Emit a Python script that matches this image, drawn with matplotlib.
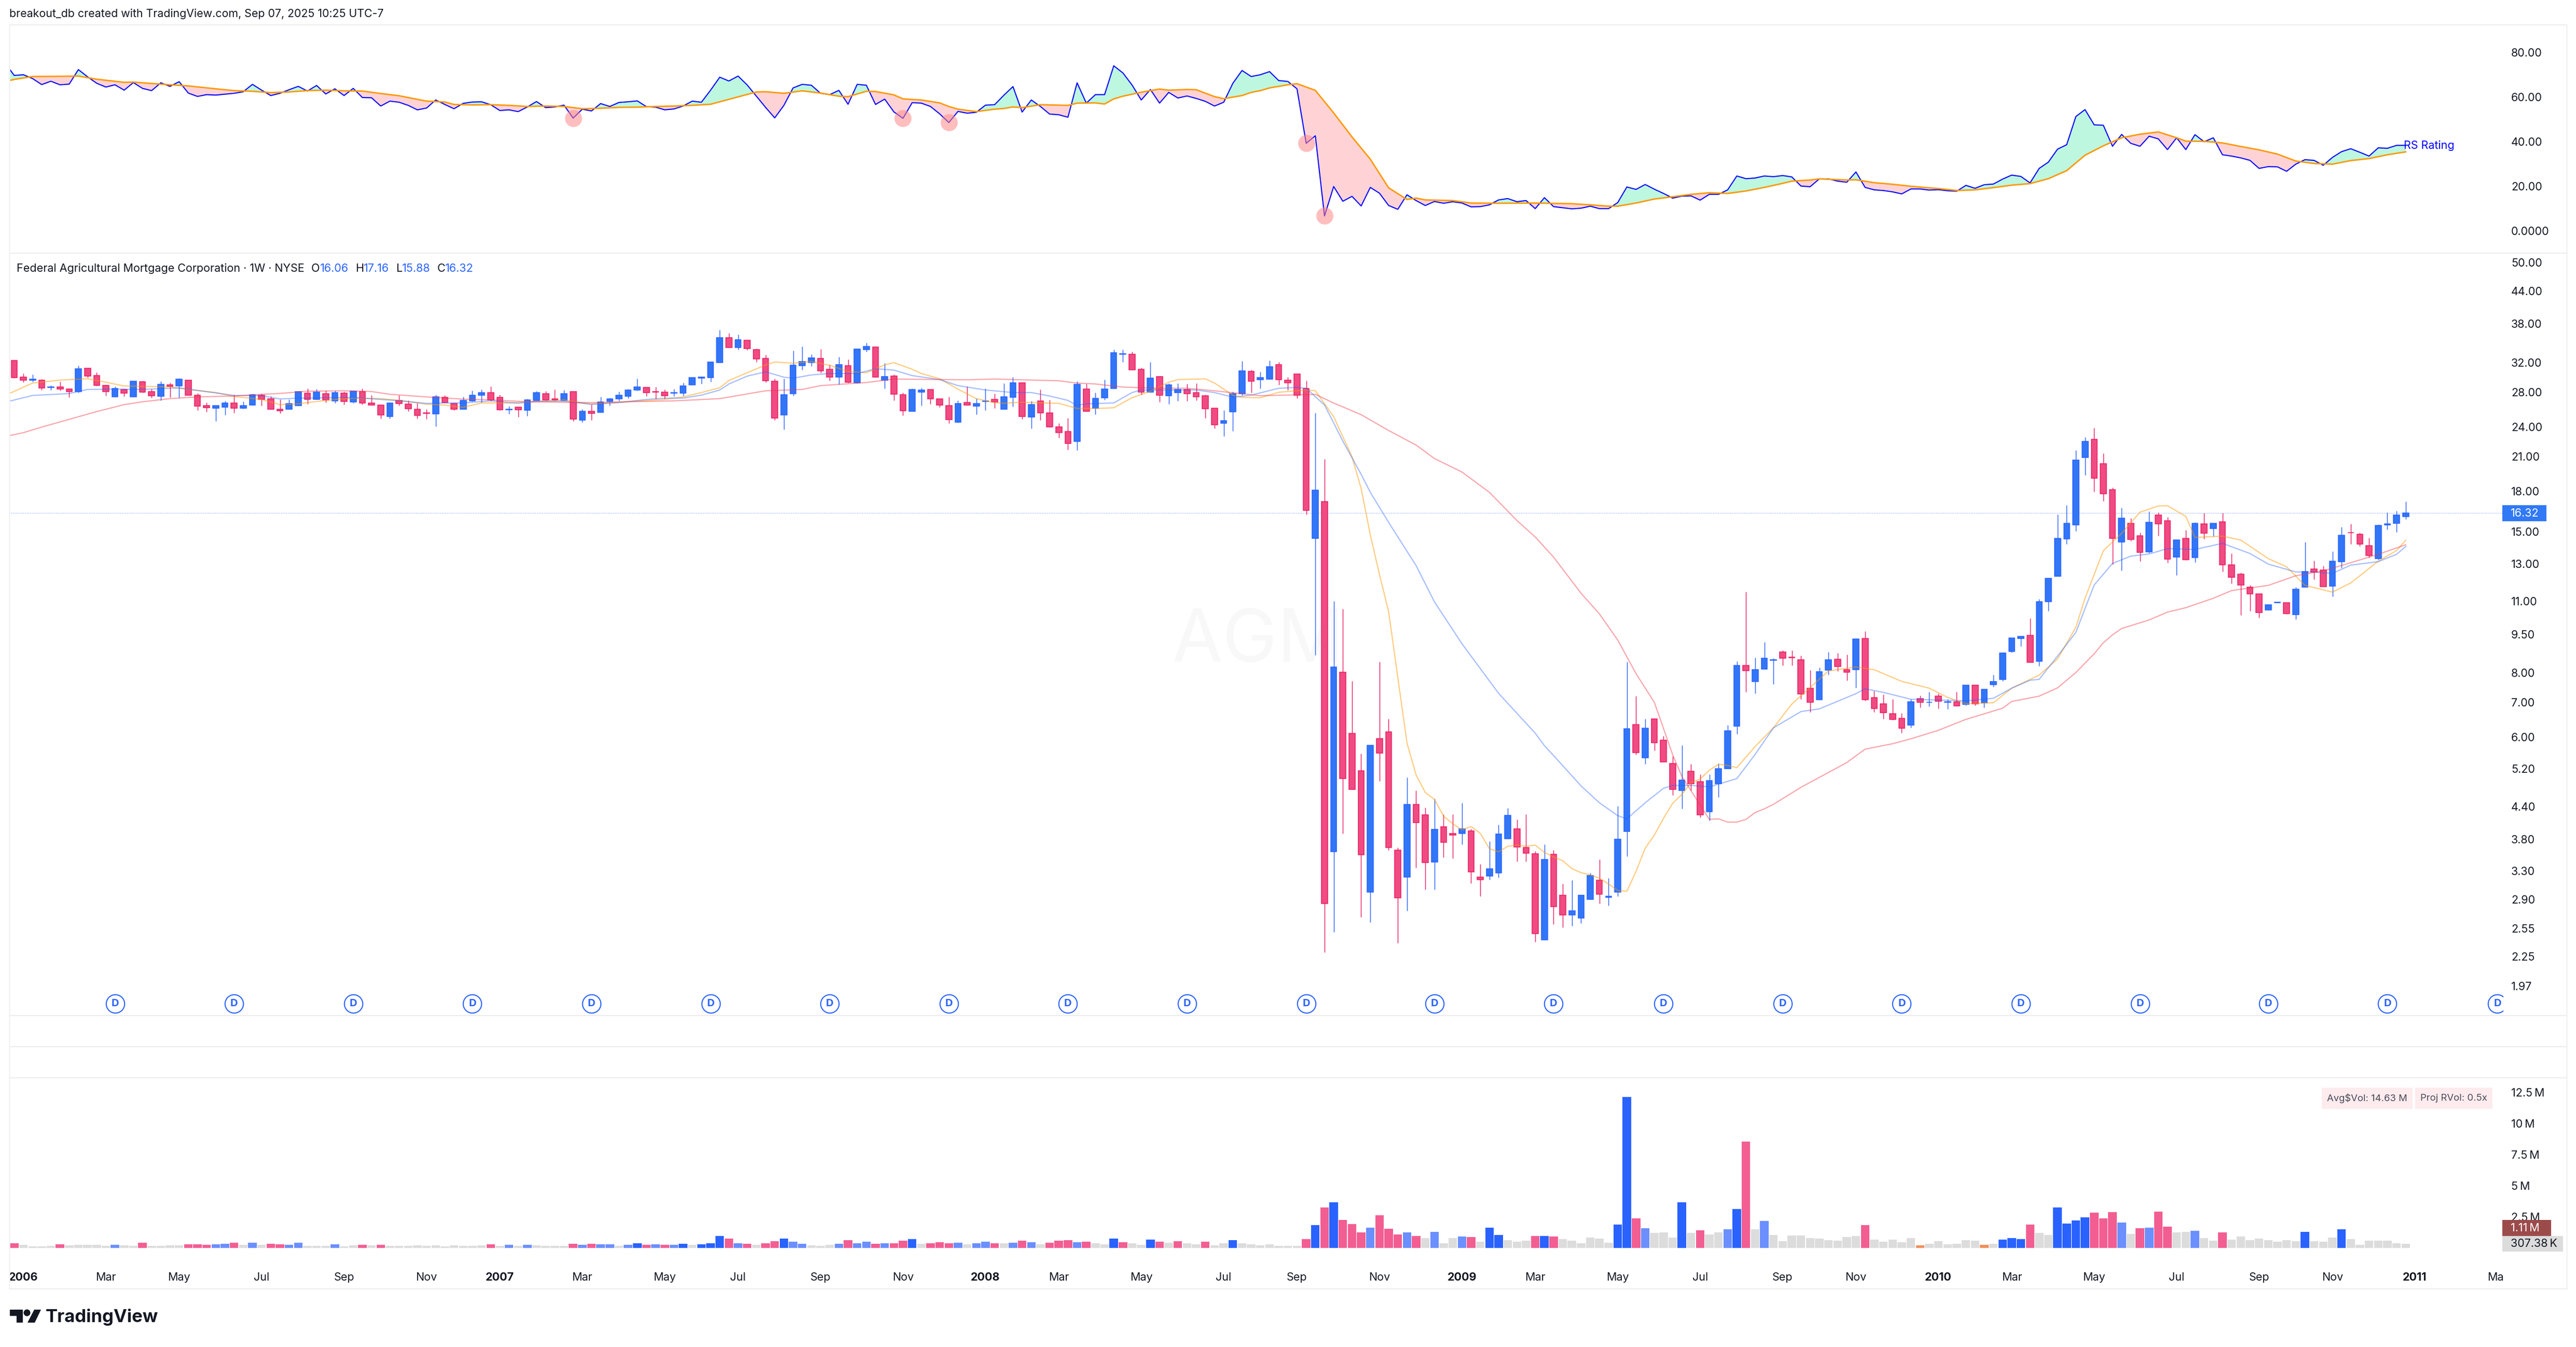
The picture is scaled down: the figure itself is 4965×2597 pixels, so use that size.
import numpy as np
import matplotlib
matplotlib.use('Agg')
import matplotlib.pyplot as plt
from matplotlib.lines import Line2D
from matplotlib.patches import Rectangle, Circle, Polygon
from matplotlib.ticker import NullLocator
from matplotlib.transforms import blended_transform_factory

plt.rcParams['font.family'] = ['Inter', 'DejaVu Sans']

# ---------- data ----------
OPEN = [
 32.25,29.95,29.56,29.54,28.61,28.65,28.39,28.09,31.15,30.16,
 28.86,27.44,28.33,27.44,29.33,28.07,27.51,28.92,28.81,29.54,
 27.62,26.36,26.08,26.20,26.67,26.08,26.45,27.62,27.17,25.94,
 25.96,26.39,27.88,27.13,27.81,26.94,27.88,26.81,28.07,26.67,
 26.43,25.14,27.00,26.55,25.94,25.52,25.43,27.36,26.61,25.96,
 26.94,27.62,27.94,27.36,25.88,26.18,25.84,27.00,27.81,27.17,
 27.00,28.07,24.73,25.70,25.60,26.87,27.19,27.51,28.28,28.59,
 28.07,28.00,27.90,27.90,28.95,29.84,29.90,31.98,35.72,34.20,
 35.31,33.85,32.55,29.40,25.31,27.81,31.53,31.96,32.55,31.01,
 29.98,31.51,29.21,33.88,34.25,29.56,30.09,27.68,25.72,28.02,
 28.33,27.17,26.36,24.50,26.73,26.32,26.87,27.11,25.96,27.38,
 29.19,25.08,26.92,25.52,23.98,23.48,22.48,28.39,26.08,27.32,
 28.48,33.19,33.17,31.01,28.02,30.02,27.57,27.94,28.33,27.94,
 27.55,26.06,24.39,25.66,27.81,30.72,29.63,29.70,31.66,29.54,
 30.37,28.46,14.57,17.18,3.59,8.01,6.09,5.16,3.00,5.96,
 6.14,3.62,3.21,4.44,4.24,3.43,4.02,3.90,3.90,3.94,
 3.21,3.22,3.27,3.81,3.98,3.66,3.56,2.42,3.55,2.96,
 2.71,2.67,2.90,3.16,2.93,3.00,3.93,6.34,5.46,6.50,
 5.92,5.33,4.72,5.14,4.91,4.29,4.87,5.20,6.30,8.25,
 7.68,8.12,8.45,8.78,8.57,8.47,7.46,7.09,8.09,8.49,
 8.10,8.11,9.31,7.16,6.95,6.65,6.52,6.33,7.12,7.00,
 7.21,7.00,7.02,6.94,7.56,6.98,7.57,7.76,8.80,9.32,
 9.44,8.42,10.99,12.30,14.54,15.47,20.92,22.70,20.35,18.13,
 14.34,15.57,14.73,13.73,16.17,15.78,13.40,14.57,13.37,15.54,
 15.23,15.71,12.94,12.43,11.73,11.36,10.58,10.94,10.92,10.37,
 11.73,12.72,12.66,11.78,13.13,14.96,14.86,14.09,13.30,15.47,
 15.58,16.06]
CLOSE = [
 29.90,29.56,29.67,28.55,28.65,28.41,28.09,31.08,30.11,28.88,
 28.09,28.46,27.90,29.40,28.02,27.57,28.99,28.74,29.67,27.64,
 26.32,26.14,26.36,26.67,26.08,26.36,27.68,27.13,25.96,25.78,
 26.61,28.07,27.13,28.01,27.06,27.94,26.87,28.13,26.69,26.45,
 25.31,26.67,26.63,26.02,25.25,25.46,27.42,26.75,25.96,26.98,
 27.62,27.94,27.06,25.90,25.94,25.88,27.04,27.94,27.06,27.08,
 27.81,24.85,25.70,25.46,26.79,27.17,27.62,28.26,28.65,27.96,
 28.02,27.57,27.94,28.79,29.88,29.95,32.03,35.72,34.20,35.39,
 34.04,32.50,29.49,24.96,27.68,31.59,32.10,32.63,30.81,29.98,
 31.66,29.26,33.94,34.33,29.98,30.02,27.77,25.78,28.33,28.26,
 27.19,26.45,24.79,26.61,26.45,26.61,26.92,26.81,27.42,29.19,
 25.14,26.49,25.54,24.01,23.39,22.28,28.99,25.72,27.23,28.39,
 33.39,33.24,30.96,28.02,29.81,27.64,28.92,28.33,27.83,27.44,
 26.02,24.22,24.65,27.81,30.79,29.42,29.88,31.36,29.63,29.21,
 27.64,16.50,18.08,2.85,8.20,4.98,4.74,3.54,5.78,5.58,
 3.66,2.92,4.44,4.09,3.42,3.97,3.75,3.87,3.98,3.28,
 3.17,3.33,3.89,4.23,3.67,3.57,2.49,3.47,2.81,2.71,
 2.76,2.96,3.23,2.97,2.94,3.80,6.23,5.59,6.24,5.84,
 5.37,4.74,4.95,4.87,4.24,4.93,5.20,6.17,8.26,8.06,
 8.10,8.53,8.47,8.52,8.55,7.27,7.01,8.03,8.47,8.22,
 8.01,9.29,7.09,6.81,6.69,6.49,6.24,7.02,7.01,7.01,
 7.04,7.02,6.89,7.56,6.96,7.43,7.69,8.72,9.33,9.40,
 8.38,10.97,12.18,14.56,15.60,20.70,22.50,19.05,17.80,14.58,
 15.94,14.50,13.70,15.67,15.56,13.28,14.47,13.25,15.60,14.91,
 15.57,12.96,12.25,11.82,11.37,10.46,10.84,10.95,10.41,11.62,
 12.57,12.53,11.75,13.17,14.79,14.93,14.21,13.51,15.45,15.54,
 16.17,16.32]
HIGH = [
 32.30,30.44,30.30,29.67,28.90,29.33,28.46,31.51,31.15,30.58,
 28.97,28.72,28.44,29.44,29.51,28.39,29.40,29.24,29.81,29.54,
 27.88,26.73,26.36,26.94,27.70,26.85,27.79,27.81,27.49,27.11,
 27.11,28.07,28.46,28.39,28.18,28.18,28.11,28.20,28.46,27.62,
 26.43,26.77,27.62,27.00,26.69,25.94,27.66,27.62,26.73,27.42,
 28.20,28.33,28.72,27.68,26.30,26.24,27.17,28.13,28.13,28.33,
 28.26,28.07,25.94,26.49,27.42,27.29,28.07,28.39,29.74,28.65,
 28.65,28.33,28.39,29.24,29.88,30.02,32.10,36.97,36.45,36.22,
 35.31,34.01,33.07,29.74,29.74,33.70,34.33,33.17,33.94,31.66,
 32.78,32.40,34.01,34.90,34.33,31.88,30.30,27.94,28.46,28.52,
 28.37,27.17,27.42,26.98,28.72,27.23,28.46,27.81,29.13,29.95,
 29.19,26.92,28.33,27.06,24.37,24.94,29.40,29.05,27.94,29.60,
 33.85,33.85,33.55,31.22,32.03,30.02,29.13,29.13,29.05,29.13,
 27.68,26.06,25.82,28.07,32.17,30.93,30.65,32.25,32.03,29.95,
 30.37,29.47,25.54,20.75,11.00,10.63,7.70,5.57,5.78,8.40,
 6.50,3.66,5.01,4.72,4.38,4.55,4.25,4.25,4.47,3.98,
 3.40,3.76,4.05,4.37,4.15,4.25,3.60,3.71,3.62,3.11,
 3.16,2.96,3.27,3.47,3.19,4.41,8.39,7.20,6.50,6.50,
 6.02,5.50,5.78,5.32,5.07,5.08,5.33,6.33,8.41,11.47,
 8.55,9.17,8.52,8.84,8.84,8.62,8.08,8.18,8.78,8.72,
 8.66,9.31,9.62,7.37,7.25,7.10,6.67,7.10,7.22,7.34,
 7.28,7.11,7.33,7.56,7.56,7.43,7.92,8.74,9.33,9.43,
 10.20,11.12,12.18,16.22,16.92,21.60,22.90,23.85,21.33,18.28,
 16.69,15.94,14.96,16.44,16.38,16.01,14.50,15.12,15.64,16.32,
 15.60,16.32,13.63,12.50,11.82,11.36,10.84,10.96,10.92,11.73,
 14.32,13.20,12.88,13.74,15.32,15.55,14.95,14.62,15.50,16.38,
 16.46,17.16]
LOW = [
 29.81,29.28,29.35,28.28,28.28,28.22,27.38,27.96,29.88,28.81,
 27.57,27.44,27.51,27.44,27.94,27.29,27.00,27.38,27.29,27.64,
 25.84,25.66,24.62,25.31,25.54,26.02,26.45,26.39,25.96,25.48,
 25.96,26.39,26.55,27.13,26.75,26.69,26.51,26.69,26.51,26.45,
 24.90,24.90,26.39,25.72,24.90,24.85,24.05,26.75,25.84,25.96,
 26.87,26.75,26.94,25.84,25.40,25.08,25.20,27.00,26.98,26.92,
 26.94,24.62,24.50,24.73,25.60,26.39,26.94,27.25,28.22,27.49,
 27.17,27.17,27.53,27.57,28.95,29.05,29.33,31.98,34.20,33.88,
 33.80,32.05,29.28,24.73,23.72,27.57,30.93,31.44,30.50,29.49,
 28.99,29.19,29.15,33.56,29.98,28.48,27.00,25.25,25.72,26.39,
 26.55,26.20,24.39,24.45,26.45,25.36,25.84,26.08,25.96,26.24,
 24.85,23.82,24.73,23.94,22.85,21.67,21.62,25.72,25.36,27.06,
 28.48,32.05,30.96,27.70,28.02,26.81,26.57,26.94,26.94,27.00,
 24.94,23.82,23.01,23.55,27.64,27.96,28.48,29.70,28.92,28.28,
 27.25,16.20,8.64,2.29,2.51,3.90,4.74,2.68,2.62,4.92,
 3.62,2.39,2.76,3.34,3.03,3.03,3.50,3.49,3.71,3.12,
 2.94,3.17,3.20,3.81,3.44,3.44,2.40,2.42,2.60,2.56,
 2.58,2.61,2.90,2.85,2.82,2.94,3.52,5.54,5.31,5.65,
 5.36,4.63,4.35,4.72,4.19,4.13,4.58,5.20,6.08,7.34,
 7.29,8.12,7.60,8.25,8.26,7.11,6.71,7.09,7.92,8.05,
 7.72,7.48,7.06,6.71,6.51,6.47,6.11,6.25,6.85,6.87,
 6.81,6.79,6.89,6.91,6.91,6.85,7.50,7.71,8.75,8.99,
 8.37,8.23,10.54,12.30,14.21,15.04,19.33,17.97,17.22,12.98,
 12.62,14.39,13.17,13.66,14.73,13.07,12.36,13.22,13.10,14.55,
 14.71,12.55,11.90,10.33,10.53,10.21,10.58,10.92,10.39,10.15,
 11.72,12.14,11.75,11.25,12.77,14.20,14.08,13.38,13.25,15.15,
 14.97,15.88]

VOLUME_M = [
 .37,.25,.12,.12,.17,.29,.21,.25,.25,.25,
 .17,.25,.21,.17,.41,.17,.17,.21,.21,.29,
 .29,.25,.29,.33,.41,.25,.41,.25,.33,.29,
 .25,.41,.17,.17,.17,.29,.12,.21,.25,.21,
 .25,.17,.17,.17,.21,.17,.21,.12,.21,.17,
 .17,.21,.29,.17,.25,.17,.25,.21,.17,.17,
 .17,.33,.25,.33,.29,.29,.17,.25,.37,.25,
 .29,.25,.25,.33,.25,.29,.37,.95,.74,.37,
 .33,.25,.37,.54,.74,.50,.33,.21,.17,.25,
 .33,.62,.37,.50,.33,.37,.37,.58,.70,.33,
 .37,.45,.37,.41,.29,.37,.50,.37,.37,.41,
 .58,.45,.29,.41,.58,.62,.45,.50,.37,.29,
 .74,.45,.37,.25,.66,.50,.41,.54,.37,.29,
 .50,.21,.37,.62,.37,.29,.21,.29,.17,.17,
 .17,.70,1.82,3.26,3.64,2.23,1.90,1.24,1.61,2.60,
 1.53,1.07,1.24,.95,.78,1.28,.37,.78,.91,.87,
 .50,1.61,1.03,.62,.50,.58,.95,.95,.91,.70,
 .58,.37,.83,.74,.41,1.86,12.14,2.35,1.57,1.20,
 1.24,.83,3.64,1.20,1.40,1.07,1.24,1.49,3.10,8.55,
 1.49,2.15,1.03,.54,.99,.99,.78,.74,.62,.58,
 .87,.95,1.82,.66,.50,.66,.45,.78,.21,.33,
 .54,.29,.33,.62,.58,.25,.33,.66,.78,.70,
 1.86,1.20,1.03,3.22,1.94,2.19,2.44,2.81,2.35,2.85,
 2.02,1.12,1.57,1.61,2.89,1.69,1.24,1.28,1.36,.78,
 .58,1.24,.66,.91,.62,.74,.62,.50,.62,.54,
 1.28,.54,.50,.83,1.49,.70,.25,.58,.58,.58,
 .37,.31]
VOLUME_KIND = ("PggggPgggg" "gbggPggggP" "PPbbPgbgPP" "bbgggbggPg" "Pggggggggg"
               "ggPgbgbggg" "gPbPbbgbBP" "bPbBgBBBPb" "PgPPBbbggg" "bPbbPbPPBg"
               "PPPbgbbPgb" "PbgPPPbPgg" "BPggBPgPgg" "PggBgggggg" "gPBPBPPPbP"
               "PPbPgbggbP" "gBBgggPBPg" "gggggBBPbg" "ggBgPggbBP" "gbgggggggg"
               "ggPgggggOg" "gggggOgBBB" "PggBBBBPPP" "bgPbPPggbg" "gPgggggggg"
               "BgggBggggggg")

# RS Rating, bar -1 .. 261
RS_RATING = [
 75.1,69.6,69.9,68.2,65.5,67.0,65.4,65.7,72.2,69.0,66.1,64.4,65.4,63.0,66.4,63.8,62.8,66.3,64.7,66.8,
 61.7,60.2,61.0,60.8,61.2,61.6,62.3,65.6,63.0,60.6,61.6,63.2,64.7,62.6,65.1,61.3,63.6,60.6,63.8,59.7,
 59.6,55.9,58.1,57.6,56.2,54.2,55.0,58.6,56.6,54.7,57.1,57.7,57.8,56.5,53.9,54.2,53.4,55.5,57.9,55.2,
 55.5,56.3,50.5,54.5,53.7,57.0,55.7,57.5,57.8,58.2,55.6,55.4,54.2,54.6,55.9,58.1,57.6,63.0,68.8,67.1,
 69.3,65.3,60.3,55.3,50.6,56.2,64.0,65.6,65.2,61.6,61.0,62.9,56.7,65.6,65.2,56.6,59.0,53.3,50.4,57.4,
 57.2,55.7,52.4,48.5,53.5,52.7,53.1,56.3,56.5,60.7,64.6,53.2,58.6,55.7,52.3,52.0,50.9,66.3,57.2,61.0,
 61.0,73.9,70.7,65.3,58.6,63.3,57.2,62.0,59.5,60.4,59.3,58.0,55.9,57.6,66.1,71.8,69.1,69.9,71.3,67.3,
 66.9,63.6,39.2,42.6,6.7,19.9,13.3,15.5,11.2,19.5,16.9,11.4,9.7,16.2,13.6,11.4,13.2,12.4,13.1,12.5,
 10.8,10.9,11.7,13.9,14.5,13.1,13.6,10.0,14.9,10.9,10.4,9.9,10.2,11.1,10.0,10.0,12.7,19.7,18.6,20.8,
 18.7,16.8,14.7,15.6,15.7,13.8,16.4,16.4,18.4,24.6,23.4,23.7,24.6,24.3,24.8,24.2,20.1,19.8,23.3,23.3,
 22.3,21.8,26.4,19.5,18.4,18.1,17.5,16.6,18.8,18.8,18.3,18.5,18.0,17.8,20.4,19.1,20.7,21.0,23.2,25.0,
 24.4,21.5,28.0,30.8,36.6,38.6,51.2,54.3,47.5,47.3,37.9,43.2,39.2,37.9,42.4,41.2,36.4,41.7,36.4,43.1,
 39.9,41.7,34.1,33.5,32.7,31.6,28.0,28.8,28.7,26.7,29.9,31.9,31.6,29.4,32.9,35.5,36.8,35.2,33.5,37.2,
 37.0,38.3,38.3]
RS_MA_BARS = [-1,0,2,5,7,9,12,13,15,17,19,22,24,26,28,30,32,34,36,38,40,42,45,47,48,50,52,54,56,58,60,62,64,66,68,70,
 72,74,76,78,80,81,82,84,86,88,90,91,92,93,94,96,97,99,101,102,103,105,107,108,109,110,112,115,116,118,119,120,121,
 123,125,126,128,129,131,132,134,135,136,137,139,140,142,144,146,148,150,152,153,154,157,159,162,166,170,172,174,175,
 177,179,181,183,185,187,189,191,193,194,196,197,200,201,203,205,207,209,210,212,214,216,218,220,222,224,226,228,230,
 232,234,236,237,239,241,243,245,247,249,251,253,255,257,259,261]
RS_MA = [66.9,67.8,69.1,69.2,69.3,67.9,66.5,66.6,66.0,65.4,64.9,63.6,62.8,62.5,61.9,62.2,62.8,63.0,62.7,62.6,61.5,60.5,58.1,57.7,56.6,56.4,56.5,56.2,55.7,55.9,55.7,54.7,54.9,55.3,55.4,55.7,
 55.9,56.2,56.7,58.9,61.1,62.2,62.3,61.6,62.7,61.7,60.3,60.1,61.3,62.5,62.4,60.9,59.1,58.6,57.3,55.7,54.5,53.4,54.5,54.8,55.5,55.2,56.5,56.2,57.2,57.3,56.8,59.1,60.3,
 62.1,63.5,63.0,63.3,63.2,60.1,59.2,60.6,62.0,62.8,64.0,65.4,65.9,62.9,52.8,42.1,32.1,19.3,14.1,14.7,13.9,13.6,12.5,12.4,12.5,12.2,11.7,11.1,11.1,
 12.5,14.3,15.3,16.4,17.1,16.8,17.9,19.5,21.3,22.3,22.8,23.3,22.8,22.9,21.6,20.9,20.0,19.3,19.0,18.1,18.4,19.4,20.5,21.2,23.4,27.0,33.9,38.1,41.7,
 43.3,44.3,41.7,40.2,40.1,39.4,37.8,36.3,34.4,31.3,30.2,29.9,31.5,32.4,34.1,35.4]
RS_SIGNAL_BARS = [61, 97, 102, 141, 143]

MA_FAST_BARS = [-1,2,5,8,10,12,15,17,19,22,24,27,29,31,34,37,40,42,45,47,49,51,54,57,60,62,63,66,69,71,
 73,75,77,78,80,82,83,85,87,89,91,93,95,96,98,99,101,103,105,107,108,110,112,114,116,118,120,122,124,126,127,130,131,133,134,136,138,141,
 142,144,146,147,148,149,150,151,152,153,154,155,156,157,158,159,160,161,162,163,164,165,166,167,168,169,170,171,172,173,174,175,176,177,178,179,180,181,182,183,184,185,186,187,188,190,
 192,194,196,198,201,203,206,209,211,213,216,218,221,223,225,226,228,230,232,234,235,237,238,241,243,246,248,250,253,255,256,258,260,261]
MA_FAST = [27.6,29.17,29.56,29.74,29.28,28.79,28.72,28.68,28.35,27.96,27.47,27.11,26.49,26.59,27.00,27.27,27.21,27.00,26.55,26.43,26.18,26.69,26.69,26.85,27.06,26.69,26.55,26.79,26.98,27.11,
 27.42,27.96,28.57,29.51,30.55,31.63,32.05,31.88,32.13,31.58,30.72,30.55,31.63,31.96,31.03,30.44,29.74,28.39,27.21,26.73,26.65,26.79,26.69,26.65,26.04,26.04,26.12,27.32,28.13,29.28,29.63,29.72,29.17,27.64,27.36,27.32,28.0,28.28,
 28.2,25.1,21.0,18.2,14.8,12.4,10.5,7.83,5.84,5.06,4.68,4.54,4.21,4.07,3.96,4.02,3.90,3.64,3.59,3.68,3.70,3.68,3.70,3.58,3.51,3.45,3.33,3.27,3.24,3.19,3.11,3.02,3.01,3.29,3.65,3.87,4.17,4.46,4.64,4.89,4.97,5.17,5.31,5.28,5.23,5.75,
 6.25,6.95,7.48,8.06,8.20,8.10,7.69,7.46,7.16,6.96,6.99,7.46,7.91,8.50,9.79,11.15,13.79,14.90,16.38,16.84,16.86,16.08,14.63,14.72,14.46,13.31,12.83,11.81,11.46,11.94,12.33,13.16,13.80,14.45]
MA_MID_BARS = [-1,2,6,8,11,14,18,21,24,27,29,31,34,37,40,42,45,47,49,52,55,57,60,63,66,69,71,
 73,75,77,78,80,82,84,85,87,89,92,94,96,98,101,103,106,109,111,113,115,116,117,120,122,123,126,129,131,133,135,138,140,141,
 143,144,145,147,148,150,153,155,158,162,166,167,168,171,173,175,176,178,180,181,183,185,188,190,
 192,195,197,201,202,204,207,213,216,218,220,221,223,225,226,227,229,231,233,235,238,241,244,246,249,251,253,255,258,260,261]
MA_MID = [26.77,27.6,27.83,28.35,28.39,28.35,28.55,28.07,27.6,27.57,27.17,27.27,27.32,27.36,27.11,26.96,26.63,26.69,26.69,26.94,26.65,26.90,26.90,26.53,26.73,27.11,27.27,
 27.27,27.64,28.28,29.05,30.09,30.67,29.95,29.81,30.25,30.44,30.44,31.10,30.91,30.16,29.63,28.84,28.28,27.96,27.96,27.53,27.0,26.39,26.59,26.69,27.96,28.28,28.28,28.28,27.96,27.38,27.64,28.5,28.61,28.5,
 26.45,24.41,22.5,19.4,17.9,15.65,12.9,10.97,9.1,7.29,6.1,5.77,5.52,4.82,4.47,4.22,4.16,4.47,4.77,4.83,4.83,4.80,4.98,5.55,
 6.25,6.72,6.80,7.28,7.44,7.32,7.10,7.05,7.13,7.46,7.73,7.76,8.61,9.57,10.65,11.83,13.03,13.46,13.59,13.92,13.87,14.25,13.62,12.99,12.54,12.54,12.46,12.93,13.13,13.57,14.05]
MA_SLOW_BARS = [-1,1,3,5,9,12,14,17,20,24,27,29,32,36,39,41,45,49,52,56,59,63,67,72,
 77,82,86,88,93,96,104,107,114,116,118,121,125,128,131,136,141,
 142,144,147,150,153,155,158,161,164,166,168,171,173,175,177,179,181,182,185,186,187,188,189,190,191,192,195,
 200,202,205,207,210,213,217,218,221,223,225,227,228,229,230,233,235,237,240,242,246,249,252,255,258,261]
MA_SLOW = [22.96,23.37,23.96,24.52,25.68,26.49,26.83,27.21,27.42,27.53,27.74,27.85,28.13,28.18,28.09,27.74,27.42,27.15,27.06,26.83,26.79,26.73,26.83,26.94,
 27.21,28.18,28.35,28.84,29.24,29.70,29.6,29.7,29.47,29.17,29.05,28.65,28.5,28.5,28.18,27.57,27.7,
 27.74,26.68,25.33,23.6,22.11,20.82,19.6,17.9,15.78,14.66,13.4,11.4,10.4,9.25,7.96,7.0,5.54,5.03,4.15,4.16,4.10,4.10,4.15,4.28,4.35,4.44,4.79,
 5.35,5.68,5.82,5.95,6.18,6.49,6.82,7.03,7.2,7.47,8.0,8.7,9.14,9.47,9.74,10.12,10.48,10.69,11.15,11.54,11.81,12.33,12.6,13.07,13.57,14.16]

DIVIDEND_BARS = [11,24,37,50,63,76,89,102,115,128,141,155,168,180,193,206,219,232,246,259,271]

PRICE_TICKS = [50,44,38,32,28,24,21,18,15,13,11,9.5,8,7,6,5.2,4.4,3.8,3.3,2.9,2.55,2.25,1.97]
PRICE_LABELS = ['50.00','44.00','38.00','32.00','28.00','24.00','21.00','18.00','15.00','13.00','11.00','9.50',
                '8.00','7.00','6.00','5.20','4.40','3.80','3.30','2.90','2.55','2.25','1.97']
RS_TICKS = [80,60,40,20,0]
RS_LABELS = ['80.00','60.00','40.00','20.00','0.0000']
VOL_TICKS = [12.5,10,7.5,5,2.5]
VOL_LABELS = ['12.5\u2009M','10\u2009M','7.5\u2009M','5\u2009M','2.5\u2009M']
TIME_BARS = [1,10,18,27,36,45,53,62,71,79,88,97,106,114,123,132,140,149,158,166,175,184,193,201,210,218,227,236,245,253,262,271]
TIME_LABELS = ['2006','Mar','May','Jul','Sep','Nov','2007','Mar','May','Jul','Sep','Nov','2008','Mar','May','Jul','Sep','Nov',
               '2009','Mar','May','Jul','Sep','Nov','2010','Mar','May','Jul','Sep','Nov','2011','Mar']

# ---------- layout ----------
W, H = 4965, 2597
L, R = 18, 4824
INK = '#131722'
BLUE, PINK = '#2962ff', '#e91e63'
FS = 15.5

fig = plt.figure(figsize=(W/100, H/100), dpi=100, facecolor='white')

def pane(top, bottom):
    ax = fig.add_axes([L/W, 1-bottom/H, (R-L)/W, (bottom-top)/H])
    ax.patch.set_visible(False)
    for s in ax.spines.values():
        s.set_visible(False)
    ax.set_xlim(-0.532, 271.6)
    ax.set_xticks([])
    ax.yaxis.tick_right()
    ax.tick_params(axis='y', length=0, pad=11.5, labelsize=FS, labelcolor=INK)
    return ax

bars = np.arange(len(CLOSE))
O, Hi, Lo, C = map(np.array, (OPEN, HIGH, LOW, CLOSE))
up = C >= O

# ---------- RS pane ----------
ax_rs = pane(48, 488)
ax_rs.set_ylim(-9.9, 92.2)
ax_rs.set_yticks(RS_TICKS, RS_LABELS)
rs_x = np.arange(-1, len(RS_RATING)-1)
rs = np.array(RS_RATING)
fine = np.linspace(-1, 261, 4000)
rs_f = np.interp(fine, rs_x, rs)
ma_f = np.interp(fine, RS_MA_BARS, RS_MA)
ax_rs.fill_between(fine, rs_f, ma_f, where=rs_f >= ma_f, color='#bdf7df', lw=0, zorder=1)
ax_rs.fill_between(fine, rs_f, ma_f, where=rs_f < ma_f, color='#ffd3d6', lw=0, zorder=1)
ax_rs.plot(rs_x, rs, color='#0000ff', lw=1.5, zorder=3)
ax_rs.plot(RS_MA_BARS, RS_MA, color='#ff9800', lw=2.0, zorder=4)
sig = np.array(RS_SIGNAL_BARS)
ax_rs.scatter(sig, rs[sig+1], s=560, color='#ff8a8a', alpha=0.55, lw=0, zorder=5)
ax_rs.text(260.8, 38.3, 'RS Rating', color='#0000ff', fontsize=15.5, va='center', ha='left', zorder=6)

# ---------- price pane ----------
ax = pane(490, 1958)
ax.set_yscale('log')
ax.set_ylim(1.727, 51.9)
ax.set_yticks(PRICE_TICKS, PRICE_LABELS)
ax.yaxis.set_minor_locator(NullLocator())
ax.vlines(bars, Lo, Hi, colors=np.where(up, BLUE, PINK), lw=1.05, zorder=2)
tops, bots = np.maximum(O, C), np.minimum(O, C)
ax.bar(bars, tops-bots, bottom=bots, width=0.66,
       color=np.where(up, '#3176f6', '#f04b82'),
       edgecolor=np.where(up, BLUE, PINK), linewidth=1.1, zorder=3)
ax.plot(MA_FAST_BARS, MA_FAST, color='#ff9800', lw=1.6, alpha=0.5, zorder=4)
ax.plot(MA_MID_BARS, MA_MID, color='#2962ff', lw=1.6, alpha=0.42, zorder=4)
ax.plot(MA_SLOW_BARS, MA_SLOW, color='#f23645', lw=1.6, alpha=0.45, zorder=4)
ax.axhline(CLOSE[-1], color=BLUE, lw=0.8, ls=(0, (1, 2)), alpha=0.7, zorder=1)
tr = blended_transform_factory(ax.transData, ax.transAxes)
ax.plot(DIVIDEND_BARS, [0.01567]*len(DIVIDEND_BARS), 'o', transform=tr, ms=25.5, mfc='white',
        mec=BLUE, mew=1.5, zorder=6)
for b in DIVIDEND_BARS:
    ax.text(b, 0.0154, 'D', transform=tr, color=BLUE, fontsize=14.5, fontweight='bold',
            ha='center', va='center', clip_on=True, zorder=7)

# ---------- volume pane ----------
ax_v = pane(2078, 2485)
ax_v.set_ylim(-3.317, 13.68)
ax_v.set_yticks(VOL_TICKS, VOL_LABELS)
KIND_COLORS = {'g': '#dcdcdc', 'P': '#f25e92', 'b': '#6b8fff', 'B': '#2962ff', 'O': '#ef8f5a'}
ax_v.bar(np.arange(len(VOLUME_M)), VOLUME_M, width=0.93,
         color=[KIND_COLORS[k] for k in VOLUME_KIND], lw=0)
tr_v = blended_transform_factory(ax_v.transData, ax_v.transAxes)
for b, s in zip(TIME_BARS, TIME_LABELS):
    bold = s.isdigit()
    ax_v.text(b, (2485-2463)/(2485-2078), s, transform=tr_v, ha='center', va='center',
              fontsize=FS, fontweight='bold' if bold else 'normal', color=INK, clip_on=True)

# ---------- chrome ----------
ch = fig.add_axes([0, 0, 1, 1], zorder=5)
ch.set_xlim(0, W)
ch.set_ylim(H, 0)
ch.axis('off')

ax.text(2258, 1276, 'AGM', transform=ch.transData, fontsize=102, color='#f8f8f8', ha='left',
        va='baseline', zorder=0, clip_on=False)

for y in (48, 488, 1958, 2018, 2078, 2485):
    ch.add_line(Line2D([18, 4947], [y, y], color='#ebebeb', lw=1.3))
ch.add_line(Line2D([18, 18], [48, 2485], color='#f2f2f2', lw=1.8))
ch.add_line(Line2D([4947, 4947], [48, 2485], color='#f2f2f2', lw=1.8))

ch.text(18, 27, 'breakout_db created with TradingView.com, Sep 07, 2025 10:25 UTC-7', fontsize=15.4,
        color=INK, va='center', ha='left')
ch.text(32, 518, 'Federal Agricultural Mortgage Corporation \u00b7 1W \u00b7 NYSE', fontsize=15.5,
        color=INK, va='center', ha='left')
for x, s, c in [(600, 'O', INK), (617, '16.06', BLUE), (685, 'H', INK), (701, '17.16', BLUE),
                (763, 'L', INK), (775, '15.88', BLUE), (843, 'C', INK), (858, '16.32', BLUE)]:
    ch.text(x, 518, s, fontsize=15.5, color=c, va='center', ha='left')

def tag(x0, x1, y0, y1, face, text, color, tx=None, fs=FS, ha='left'):
    ch.add_patch(Rectangle((x0, y0), x1-x0, y1-y0, color=face, lw=0))
    ch.text(x0+16 if tx is None else tx, (y0+y1)/2, text, fontsize=fs, color=color, ha=ha,
            va='center', parse_math=False)

tag(4823, 4908, 974, 1005, '#3179f5', '16.32', 'white')
tag(4823, 4917, 2352, 2383, '#9c4b4b', '1.11\u2009M', 'white')
tag(4823, 4940, 2383, 2413, '#dcdcdc', '307.38\u2009K', INK)
tag(4475, 4650, 2097, 2138, '#fdebee', 'Avg$Vol: 14.63 M', '#4a4a55', tx=4562, fs=13.3, ha='center')
tag(4655, 4804, 2097, 2138, '#fdebee', 'Proj RVol: 0.5x', '#4a4a55', tx=4729, fs=13.3, ha='center')

# TradingView logo
ch.add_patch(Polygon([(19, 2525), (44, 2525), (44, 2550), (32, 2550), (32, 2537), (19, 2537)], color=INK, lw=0))
ch.add_patch(Circle((52, 2531), 6.5, color=INK, lw=0))
ch.add_patch(Polygon([(66, 2525), (79, 2525), (67, 2550), (53, 2550)], color=INK, lw=0))
ch.text(88, 2540, 'TradingView', fontsize=25, fontweight='bold', color=INK, va='center', ha='left')

fig.savefig('out.png', dpi=100, facecolor='white')
